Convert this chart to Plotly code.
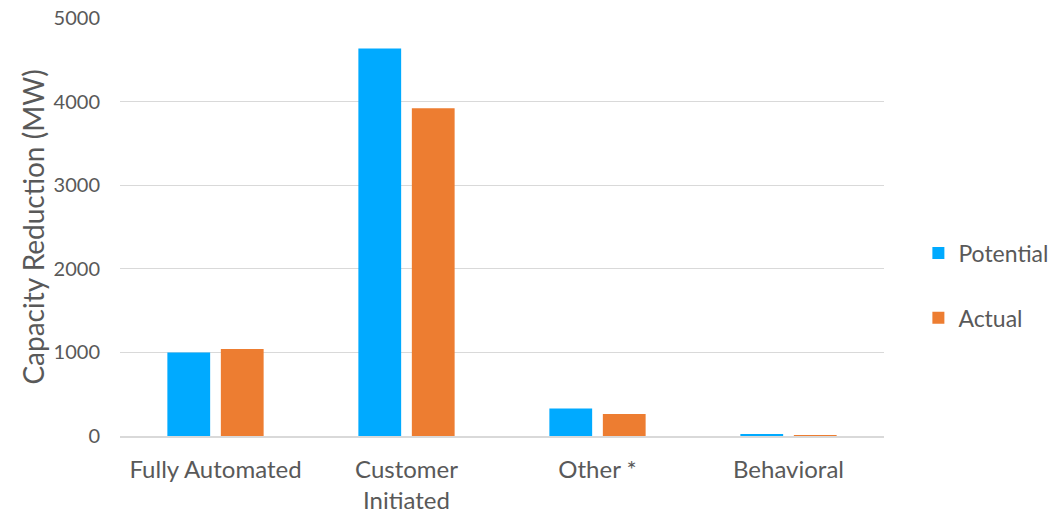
import plotly.graph_objects as go

categories = ["Fully Automated", "Customer<br>Initiated", "Other *", "Behavioral"]
potential = [1000, 4635, 330, 15]
actual = [1040, 3920, 262, 10]
y_ticks = [0, 1000, 2000, 3000, 4000, 5000]

TEXT = "#595959"
FONT = "Lato"

fig = go.Figure()
fig.add_trace(go.Bar(name="Potential", x=categories, y=potential,
                     marker=dict(color="#00AAFF", line=dict(width=0)), legendgroup="p"))
fig.add_trace(go.Bar(name="Actual", x=categories, y=actual,
                     marker=dict(color="#ED7D31", line=dict(width=0)), legendgroup="a"))

fig.update_layout(
    width=1059, height=515,
    margin=dict(l=120, r=175, t=18, b=79, autoexpand=False),
    paper_bgcolor="white", plot_bgcolor="white",
    barmode="group", bargap=0.44, bargroupgap=0.2,
    font=dict(family=FONT, size=20, color=TEXT),
    showlegend=True,
    legend=dict(x=1.045, y=0.36, xanchor="left", yanchor="middle",
                font=dict(size=23, color=TEXT), tracegroupgap=32,
                traceorder="grouped", itemwidth=30),
    xaxis=dict(showgrid=False, showline=True, linecolor="#D9D9D9", linewidth=2,
               ticks="", tickfont=dict(size=24, color=TEXT), automargin=False,
               ticklabelstandoff=11),
    yaxis=dict(range=[0, 5000], tickvals=y_ticks, showgrid=True,
               gridcolor="#D9D9D9", gridwidth=1, zeroline=False,
               ticks="outside", ticklen=15, tickcolor="rgba(0,0,0,0)",
               tickfont=dict(size=20, color=TEXT), automargin=False,
               ticklabeloverflow="allow",
               title=dict(text="Capacity Reduction (MW)", font=dict(size=28, color=TEXT),
                          standoff=0)),
)

fig.write_html("out.html", config={"displayModeBar": False},
               post_script="document.body.style.margin='0';document.body.style.overflow='hidden';")
